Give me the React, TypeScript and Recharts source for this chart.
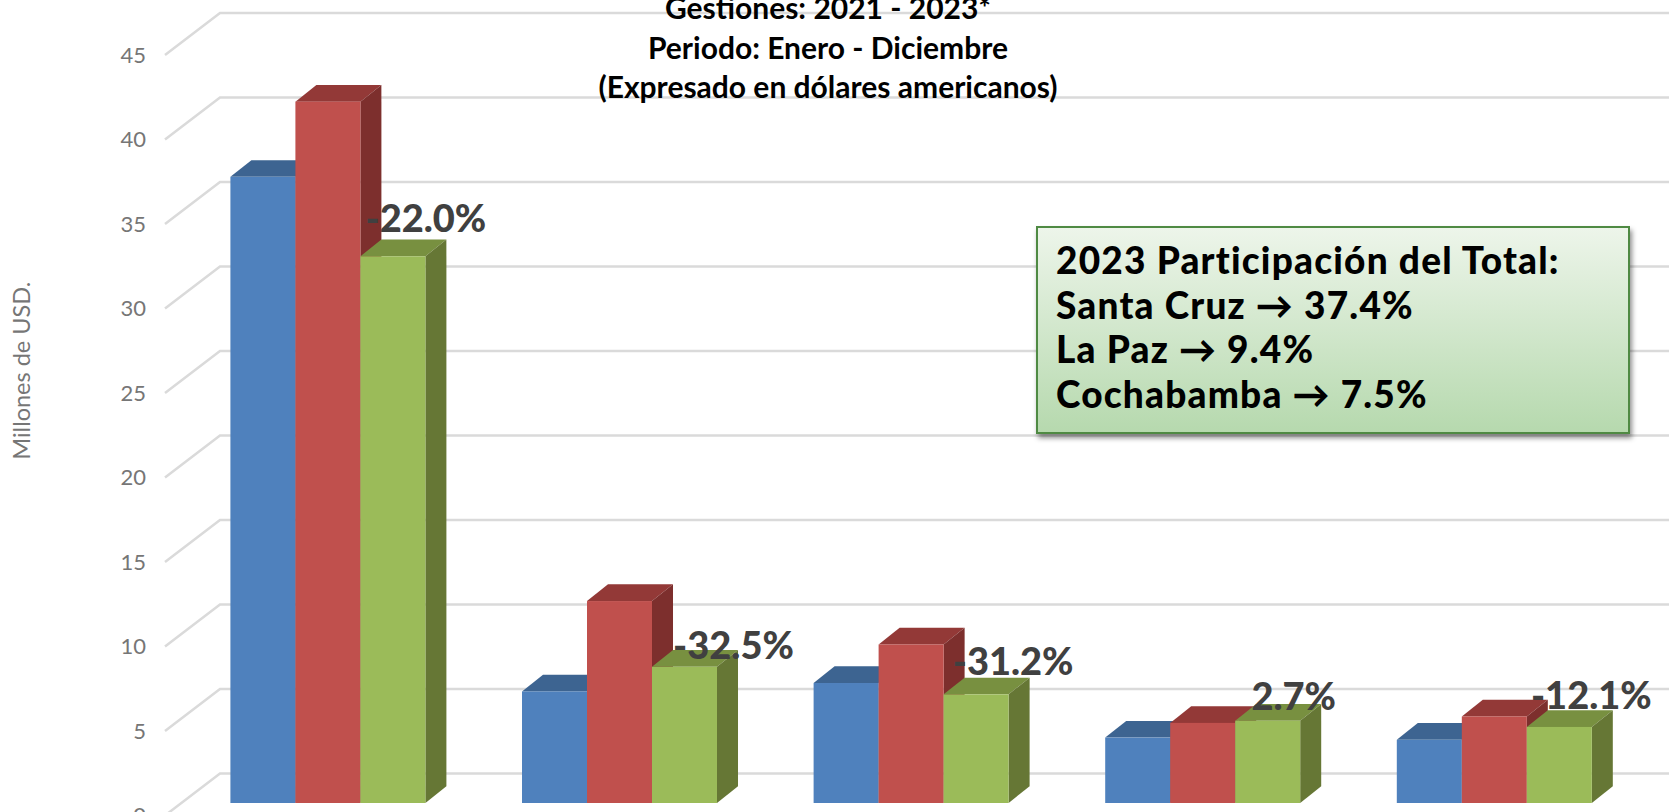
import { BarChart, Bar, XAxis, YAxis, CartesianGrid, LabelList } from 'recharts';

const departments = ['Santa Cruz', 'La Paz', 'Cochabamba', 'Depto. 4', 'Depto. 5'];
const values2021 = [37.05, 6.6, 7.1, 3.87, 3.74];
const values2022 = [41.5, 11.95, 9.38, 4.74, 5.12];
const values2023 = [32.35, 8.06, 6.43, 4.87, 4.5];
const variation = ['-22.0%', '-32.5%', '-31.2%', '2.7%', '-12.1%'];
const yTicks = [0, 5, 10, 15, 20, 25, 30, 35, 40, 45];
const titleLines = ['Gestiones: 2021 - 2023*', 'Periodo: Enero - Diciembre', '(Expresado en dólares americanos)'];
const boxLines = ['2023 Participación del Total:', 'Santa Cruz → 37.4%', 'La Paz → 9.4%', 'Cochabamba → 7.5%'];

// hand placed labels in the original, shift from the top centre of the green bar
const labelShift = [
  { dx: 33, dy: -24 },
  { dx: 49, dy: -8 },
  { dx: 37, dy: -19 },
  { dx: 26, dy: -11 },
  { dx: 32, dy: -18 },
];

const data = departments.map((name, i) => ({
  name,
  y2021: values2021[i],
  y2022: values2022[i],
  y2023: values2023[i],
  variation: variation[i],
}));

const DEPTH_X = 21;
const DEPTH_Y = 16.7;
const FONT = 'Lato, sans-serif';

function Bar3D({ x, y, width, height, fill, top, side }: any) {
  const r = x + width;
  const b = y + height;
  return (
    <g>
      <polygon
        points={`${x},${y} ${x + DEPTH_X},${y - DEPTH_Y} ${r + DEPTH_X},${y - DEPTH_Y} ${r},${y}`}
        fill={top}
      />
      <polygon
        points={`${r},${y} ${r + DEPTH_X},${y - DEPTH_Y} ${r + DEPTH_X},${b - DEPTH_Y} ${r},${b}`}
        fill={side}
      />
      <rect x={x} y={y} width={width} height={height} fill={fill} />
    </g>
  );
}

// wall line: diagonal on the side wall, then straight across the back
function WallLine({ y1 }: any) {
  return (
    <g stroke="#dadada" strokeWidth={2.5} fill="none">
      <polyline points={`165,${y1 + 12.5} 220,${y1 - 29.5} 1669,${y1 - 29.5}`} />
    </g>
  );
}

function AxisTick({ x, y, payload }: any) {
  return (
    <text x={x} y={y + 20} textAnchor="end" fontFamily={FONT} fontSize={22} fill="#767676">
      {payload.value}
    </text>
  );
}

function VariationLabel({ x, y, width, index, value }: any) {
  const s = labelShift[index];
  return (
    <text
      x={x + width / 2 + s.dx}
      y={y + s.dy}
      textAnchor="middle"
      fontFamily={FONT}
      fontWeight={900}
      fontSize={38}
      fill="#404040"
    >
      {value}
    </text>
  );
}

export default function App() {
  return (
    <div style={{ position: 'absolute', left: 0, top: 0, width: 1669, height: 812, overflow: 'hidden', background: '#fff' }}>
      <BarChart
        width={1669}
        height={812}
        data={data}
        margin={{ top: 42.5, right: 29, bottom: 9, left: 0 }}
        barGap={0}
        barCategoryGap="16.6%"
      >
        <CartesianGrid vertical={false} horizontal={(p: any) => <WallLine key={p.index} y1={p.y1} />} />
        <XAxis dataKey="name" hide />
        <YAxis
          width={182}
          domain={[0, 45]}
          ticks={yTicks}
          axisLine={false}
          tickLine={false}
          tick={AxisTick}
          tickMargin={30}
          label={{
            value: 'Millones de USD.',
            angle: -90,
            position: 'insideLeft',
            dx: 17,
            dy: -52,
            style: { fontFamily: FONT, fontSize: 23.5, fill: '#767676', textAnchor: 'middle' },
          }}
        />
        <Bar
          dataKey="y2021"
          name="2021"
          fill="#4f81bd"
          isAnimationActive={false}
          shape={(p: any) => <Bar3D {...p} top="#3d6491" side="#355780" />}
        />
        <Bar
          dataKey="y2022"
          name="2022"
          fill="#c0504d"
          isAnimationActive={false}
          shape={(p: any) => <Bar3D {...p} top="#933937" side="#7d2f2d" />}
        />
        <Bar
          dataKey="y2023"
          name="2023"
          fill="#9bbb59"
          isAnimationActive={false}
          shape={(p: any) => <Bar3D {...p} top="#789040" side="#667735" />}
        >
          <LabelList dataKey="variation" content={VariationLabel} />
        </Bar>
      </BarChart>

      <div
        style={{
          position: 'absolute',
          left: 528,
          width: 600,
          top: -12,
          textAlign: 'center',
          fontFamily: FONT,
          fontWeight: 700,
          fontSize: 30,
          lineHeight: '39.5px',
          color: '#000',
        }}
      >
        {titleLines.map((line) => (
          <div key={line}>{line}</div>
        ))}
      </div>

      <div
        style={{
          position: 'absolute',
          left: 1036,
          top: 226,
          width: 590,
          height: 204,
          boxSizing: 'content-box',
          border: '2px solid #4f8a43',
          background: 'linear-gradient(#edf5ea, #b6d9ae)',
          boxShadow: '2px 4px 5px rgba(0,0,0,0.45)',
          fontFamily: FONT,
          fontWeight: 900,
          fontSize: 37,
          letterSpacing: 1.2,
          lineHeight: '44.7px',
          color: '#000',
        }}
      >
        <div style={{ padding: '10px 0 0 18px' }}>
          {boxLines.map((line) => (
            <div key={line}>{line}</div>
          ))}
        </div>
      </div>
    </div>
  );
}
